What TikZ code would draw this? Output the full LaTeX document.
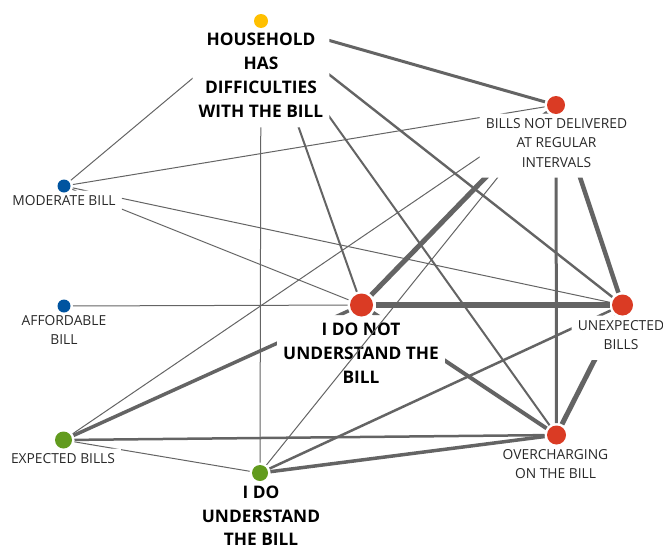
\documentclass[tikz,border=0pt]{standalone}
\usepackage{fontspec}
\setmainfont{Open Sans}
\definecolor{nred}{RGB}{218,59,36}
\definecolor{nyel}{RGB}{255,192,0}
\definecolor{nblue}{RGB}{0,84,160}
\definecolor{ngreen}{RGB}{98,155,30}
\definecolor{egray}{RGB}{100,100,100}
\definecolor{ltext}{RGB}{40,40,40}
\tikzset{
  dot/.style={circle, fill=#1, draw=none, inner sep=0pt, outer sep=2.5pt},
  lbl/.style={font=\fontsize{13.8}{19.5}\selectfont, text=ltext, align=center, inner sep=0pt, anchor=north},
  blbl/.style={font=\fontsize{17.3}{23.8}\selectfont\bfseries, text=black, align=center, inner sep=0pt, anchor=north},
  lnk/.style={draw=egray, line cap=butt}
}
% hole (area where a connector is hidden) round a label: #1 name, #2 top margin
\newcommand\hole[2]{%
  \coordinate (#1h1) at ([xshift=-6pt,yshift=-10pt]#1l.south west);
  \coordinate (#1h2) at ([xshift=6pt,yshift=#2]#1l.north east);}
\newcommand\conn[3]{%
  \begin{scope}
    \clip (-20,-20) -- (690,-20) -- (690,570) -- (-20,570) -- cycle
      (#1h1) -- (#1h1 -| #1h2) -- (#1h2) -- (#1h2 -| #1h1) -- cycle
      (#2h1) -- (#2h1 -| #2h2) -- (#2h2) -- (#2h2 -| #2h1) -- cycle;
    \draw[lnk, line width=#3] (#1) -- (#2);
  \end{scope}}
\begin{document}
\begin{tikzpicture}[x=1pt, y=-1pt]
\useasboundingbox (0,0) rectangle (663,546);
% dots
\node[dot=nyel, minimum size=14pt] (H) at (261,21) {};
\node[dot=nred, minimum size=18pt] (BND) at (556,105) {};
\node[dot=nblue, minimum size=13pt] (MB) at (64,186) {};
\node[dot=nblue, minimum size=13pt] (AB) at (64,306) {};
\node[dot=nred, minimum size=23pt] (DNU) at (361.5,305) {};
\node[dot=nred, minimum size=21pt] (UB) at (622.5,305) {};
\node[dot=ngreen, minimum size=17pt] (EB) at (63.5,440) {};
\node[dot=nred, minimum size=19pt] (OC) at (556.5,435) {};
\node[dot=ngreen, minimum size=16pt] (DU) at (260,473) {};
% labels
\node[blbl] (Hl) at (261,33) {HOUSEHOLD\\HAS\\DIFFICULTIES\\WITH THE BILL};
\node[lbl] (BNDl) at (556.5,118) {BILLS NOT DELIVERED\\AT REGULAR\\INTERVALS};
\node[lbl] (MBl) at (64,195) {MODERATE BILL};
\node[lbl] (ABl) at (64,315) {AFFORDABLE\\BILL};
\node[blbl] (DNUl) at (361,323) {I DO NOT\\UNDERSTAND THE\\BILL};
\node[lbl] (UBl) at (621,320) {UNEXPECTED\\BILLS};
\node[lbl] (EBl) at (63,453) {EXPECTED BILLS};
\node[lbl] (OCl) at (555.5,449) {OVERCHARGING\\ON THE BILL};
\node[blbl] (DUl) at (261,485.5) {I DO\\UNDERSTAND\\THE BILL};
% holes
\hole{H}{13pt}
\hole{BND}{4.5pt}
\hole{MB}{4.5pt}
\hole{AB}{4.5pt}
\hole{DNU}{8pt}
\hole{UB}{4.5pt}
\hole{EB}{4.5pt}
\hole{OC}{4.5pt}
\hole{DU}{8pt}
% connectors
\conn{H}{BND}{3pt}
\conn{H}{UB}{2.4pt}
\conn{H}{OC}{2pt}
\conn{H}{DNU}{2pt}
\conn{H}{DU}{1pt}
\conn{H}{MB}{1pt}
\conn{BND}{MB}{1pt}
\conn{BND}{EB}{1pt}
\conn{BND}{DNU}{5pt}
\conn{BND}{DU}{1pt}
\conn{BND}{OC}{3pt}
\conn{BND}{UB}{4.5pt}
\conn{MB}{UB}{1pt}
\conn{MB}{DNU}{1pt}
\conn{AB}{DNU}{1pt}
\conn{DNU}{UB}{6pt}
\conn{DNU}{OC}{4pt}
\conn{DNU}{EB}{3.5pt}
\conn{UB}{OC}{5pt}
\conn{UB}{DU}{2.5pt}
\conn{EB}{OC}{2.5pt}
\conn{EB}{DU}{1pt}
\conn{DU}{OC}{3.5pt}
\end{tikzpicture}
\end{document}
